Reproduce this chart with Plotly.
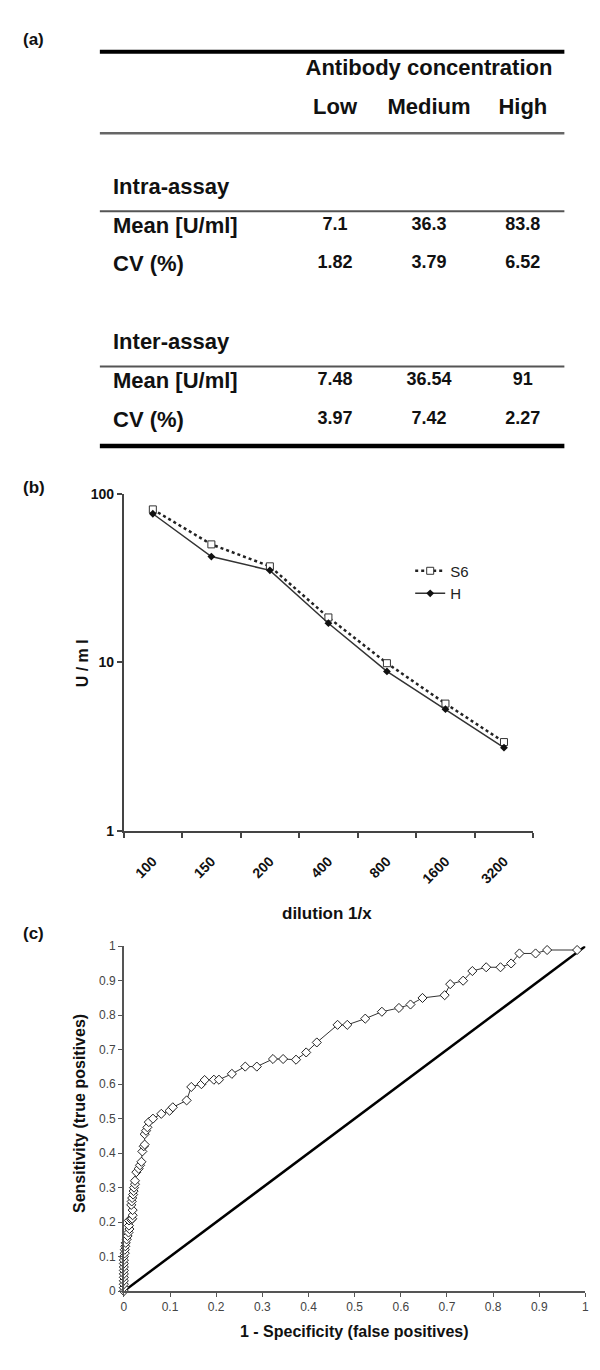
import plotly.graph_objects as go

# ---------------- data ----------------
# (a) precision table
table_header = "Antibody concentration"
table_columns = ["Low", "Medium", "High"]
row_names = ["Intra-assay", "Mean [U/ml]", "CV (%)", "Inter-assay", "Mean [U/ml]", "CV (%)"]
intra_mean = [7.1, 36.3, 83.8]
intra_cv = [1.82, 3.79, 6.52]
inter_mean = [7.48, 36.54, 91]
inter_cv = [3.97, 7.42, 2.27]

# (b) dilution linearity
dilutions = ["100", "150", "200", "400", "800", "1600", "3200"]
s6_values = [81, 50.2, 37.2, 18.5, 9.9, 5.7, 3.37]
h_values = [76.3, 42.5, 35.2, 17.1, 8.85, 5.28, 3.12]

# (c) ROC curve
roc_fpr = [0, 0, 0, 0, 0, 0, 0, 0, 0, 0, 0, 0.002, 0.002, 0.003, 0.004, 0.006, 0.008,
           0.010, 0.012, 0.011, 0.011, 0.016, 0.018, 0.019, 0.019, 0.016, 0.017, 0.018,
           0.020, 0.021, 0.022, 0.024, 0.024, 0.027, 0.032, 0.035, 0.038, 0.040, 0.043,
           0.045, 0.045, 0.048, 0.051, 0.054, 0.063, 0.081, 0.099, 0.106, 0.136, 0.146,
           0.168, 0.175, 0.195, 0.206, 0.234, 0.263, 0.288, 0.323, 0.345, 0.373, 0.395,
           0.418, 0.463, 0.484, 0.523, 0.559, 0.596, 0.621, 0.647, 0.695, 0.707, 0.735,
           0.755, 0.785, 0.816, 0.839, 0.857, 0.892, 0.917, 0.982]
roc_tpr = [0, 0.01, 0.02, 0.03, 0.04, 0.05, 0.06, 0.07, 0.08, 0.09, 0.10, 0.11, 0.12,
           0.13, 0.14, 0.15, 0.16, 0.17, 0.18, 0.19, 0.205, 0.207, 0.21, 0.22, 0.235,
           0.25, 0.26, 0.27, 0.28, 0.29, 0.30, 0.31, 0.32, 0.345, 0.355, 0.365, 0.375,
           0.405, 0.42, 0.425, 0.455, 0.465, 0.475, 0.49, 0.50, 0.514, 0.523, 0.533,
           0.553, 0.592, 0.600, 0.612, 0.613, 0.613, 0.630, 0.651, 0.651, 0.673, 0.673,
           0.671, 0.692, 0.721, 0.772, 0.772, 0.790, 0.810, 0.821, 0.831, 0.850, 0.858,
           0.890, 0.900, 0.928, 0.939, 0.939, 0.950, 0.979, 0.979, 0.989, 0.989]
ref_x = [0, 1]
ref_y = [0, 1]

# ---------------- layout helpers ----------------
W, H = 600, 1370


def fx(px):
    return px / W


def fy(px):
    return 1 - px / H


FONT = "Liberation Sans, Arial, Helvetica, sans-serif"
fig = go.Figure()

# ---------------- (a) table ----------------
row_keys = ["title", "cols", "sp1", "intra", "intra_mean", "intra_cv",
            "sp2", "inter", "inter_mean", "inter_cv"]
hdr_font = dict(family=FONT, size=22, color="#111", weight="bold")
val_font = dict(family=FONT, size=18, color="#111", weight="bold")

fig.add_trace(go.Scatter(x=["Medium"], y=["title"], text=[table_header], mode="text",
                         textfont=hdr_font, xaxis="x3", yaxis="y3", cliponaxis=False,
                         showlegend=False, hoverinfo="skip"))
fig.add_trace(go.Scatter(x=table_columns, y=["cols"] * 3, text=table_columns, mode="text",
                         textfont=hdr_font, xaxis="x3", yaxis="y3", cliponaxis=False,
                         showlegend=False, hoverinfo="skip"))
for key, vals in [("intra_mean", intra_mean), ("intra_cv", intra_cv),
                  ("inter_mean", inter_mean), ("inter_cv", inter_cv)]:
    fig.add_trace(go.Scatter(x=table_columns, y=[key] * 3, text=[str(v) for v in vals],
                             mode="text", textfont=val_font, xaxis="x3", yaxis="y3",
                             cliponaxis=False, showlegend=False, hoverinfo="skip"))

annotations = []
for name, key in zip(row_names, ["intra", "intra_mean", "intra_cv", "inter", "inter_mean", "inter_cv"]):
    annotations.append(dict(text=name, xref="paper", x=fx(109), xanchor="left",
                            yref="y3", y=row_keys.index(key), yanchor="middle",
                            showarrow=False, font=hdr_font))

shapes = []
for ypx, wid, col in [(44.3, 4, "#000"), (126.7, 2.5, "#666"), (205.7, 2, "#555"),
                      (362.7, 2, "#555"), (443.3, 4.5, "#000")]:
    shapes.append(dict(type="line", xref="paper", yref="paper", x0=fx(98), x1=fx(568),
                       y0=fy(ypx), y1=fy(ypx), line=dict(color=col, width=wid)))

# ---------------- (b) dilution ----------------
fig.add_trace(go.Scatter(x=dilutions, y=s6_values, name="S6", mode="lines+markers",
                         line=dict(color="#222", width=2.5, dash="dot"),
                         marker=dict(symbol="square", size=7, color="white",
                                     line=dict(color="#333", width=1)),
                         xaxis="x", yaxis="y", cliponaxis=False))
fig.add_trace(go.Scatter(x=dilutions, y=h_values, name="H", mode="lines+markers",
                         line=dict(color="#333", width=1.5),
                         marker=dict(symbol="diamond", size=6, color="#111"),
                         xaxis="x", yaxis="y", cliponaxis=False))

# ---------------- (c) ROC ----------------
fig.add_trace(go.Scatter(x=ref_x, y=ref_y, mode="lines", line=dict(color="#000", width=2.5),
                         xaxis="x2", yaxis="y2", showlegend=False, hoverinfo="skip"))
fig.add_trace(go.Scatter(x=roc_fpr, y=roc_tpr, mode="lines+markers",
                         line=dict(color="#333", width=1),
                         marker=dict(symbol="diamond", size=7, color="white",
                                     line=dict(color="#222", width=1)),
                         xaxis="x2", yaxis="y2", showlegend=False, cliponaxis=False))

bold16 = dict(family=FONT, size=16, color="#111", weight="bold")
lab_font = dict(family=FONT, size=17, color="#111", weight="bold")


def ann(text, x, y, font, angle=0):
    return dict(text=text, xref="paper", yref="paper", x=fx(x), y=fy(y),
                xanchor="center", yanchor="middle", textangle=angle,
                showarrow=False, font=font)


annotations += [
    ann("(a)", 31, 32, lab_font),
    ann("(b)", 31, 485, lab_font),
    ann("(c)", 31, 936, lab_font),
    ann("U / m l", 80, 663, bold16, -90),
    ann("dilution 1/x", 328, 916, lab_font),
    ann("Sensitivity (true positives)", 78, 1119, bold16, -90),
    ann("1 - Specificity (false positives)", 356, 1339, bold16),
]

axis_b = dict(showline=True, linecolor="#444", linewidth=1.5, ticks="outside",
              tickcolor="#444", ticklen=5, tickwidth=1.5, showgrid=False, zeroline=False)
axis_c = dict(showline=True, linecolor="#555", linewidth=1.5, ticks="outside",
              tickcolor="#555", ticklen=4, tickwidth=1, showgrid=False, zeroline=False,
              tickfont=dict(family=FONT, size=12, color="#444"))

fig.update_layout(
    width=W, height=H, margin=dict(l=0, r=0, t=0, b=0),
    paper_bgcolor="white", plot_bgcolor="white",
    font=dict(family=FONT, color="#111"),
    xaxis=dict(domain=[fx(122), fx(536.5)], anchor="y", type="category",
               categoryarray=dilutions, range=[-0.5, 6.5], tickson="boundaries",
               tickangle=-45, ticklabelstandoff=15,
               tickfont=dict(family=FONT, size=14, color="#111", weight="bold"), **axis_b),
    yaxis=dict(domain=[fy(832.7), fy(491.7)], anchor="x", type="log", range=[0, 2],
               tickvals=[1, 10, 100], ticktext=["1", "10", "100"],
               tickfont=dict(family=FONT, size=14, color="#111", weight="bold"), **axis_b),
    xaxis2=dict(domain=[fx(122.3), fx(589.3)], anchor="y2", range=[0, 1], dtick=0.1,
                tick0=0, **axis_c),
    yaxis2=dict(domain=[fy(1298.3), fy(949.3)], anchor="x2", range=[0, 1], dtick=0.1,
                tick0=0, **axis_c),
    xaxis3=dict(domain=[fx(288.5), fx(573.5)], anchor="y3", type="category",
                categoryarray=table_columns, range=[-0.5, 2.5], visible=False),
    yaxis3=dict(domain=[fy(435.75), fy(42.75)], anchor="x3", type="category",
                categoryarray=row_keys, range=[9.5, -0.5], visible=False),
    legend=dict(x=fx(412), y=fy(553), xanchor="left", yanchor="top", itemwidth=30,
                bgcolor="rgba(0,0,0,0)", font=dict(family=FONT, size=15, color="#222"),
                tracegroupgap=0),
    annotations=annotations, shapes=shapes, showlegend=True,
)

fig.write_html("out.html", config={"displayModeBar": False},
               post_script="document.body.style.margin='0';")
